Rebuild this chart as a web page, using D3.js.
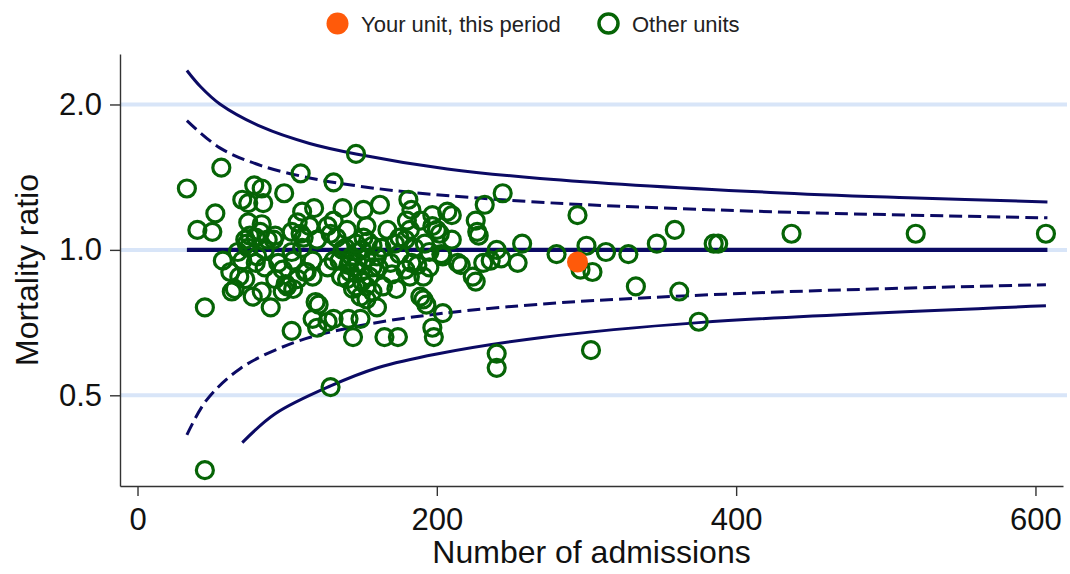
<!DOCTYPE html>
<html>
<head>
<meta charset="utf-8">
<script src="https://cdn.jsdelivr.net/npm/d3@7"></script>
<style>
  html, body { margin: 0; padding: 0; background: #fff; }
  svg { display: block; font-family: "Liberation Sans", Arial, sans-serif; }
</style>
</head>
<body>
<svg id="chart" width="1070" height="574"></svg>
<script>
// Funnel plot: standardised mortality ratio against number of admissions

// Other units: admissions and mortality ratio
const otherAdmissions = [
  33, 56, 146, 109, 131, 162, 181, 183, 244, 232,
  52, 40, 50, 78, 83, 98, 70, 74, 84, 74,
  83, 92, 110, 107, 118, 103, 72, 79, 87, 111,
  137, 151, 131, 197, 207, 180, 189, 197, 202, 115,
  127, 153, 167, 182, 109, 133, 151, 175, 210, 226,
  227, 228, 200, 257, 254, 240, 243, 236, 216, 203,
  214, 231, 224, 226, 294, 300, 280, 313, 328, 296,
  304, 347, 359, 385, 388, 437, 520, 607, 333, 362,
  375, 303, 240, 240, 197, 198, 191, 193, 204, 45,
  45, 129, 103, 89, 121, 120, 127, 131, 141, 149,
  144, 165, 174, 182, 191, 173, 189, 204, 195, 113,
  117, 127, 131, 140, 144, 153, 160, 164, 169, 157,
  149, 142, 77, 63, 57, 62, 68, 65, 83, 72,
  79, 85, 94, 92, 99, 97, 104, 107, 112, 117,
  103, 67, 74, 85, 110, 119, 117, 70, 73, 80,
  75, 82, 91, 100, 97, 104, 120, 129, 140, 137,
  147, 139, 143, 147, 150, 153, 145, 150, 155, 157,
  141, 146, 154, 160, 161, 136, 153, 146, 142, 135,
  149, 157, 163, 172, 179, 185, 192, 175, 183, 179,
  187, 170, 195, 210
];
const otherRatio = [
  1.34, 1.48, 1.58, 1.44, 1.38, 1.24, 1.27, 1.21, 1.31, 1.24,
  1.19, 1.10, 1.09, 1.36, 1.34, 1.31, 1.27, 1.25, 1.25, 1.14,
  1.13, 1.07, 1.20, 1.14, 1.22, 1.09, 1.05, 1.06, 1.05, 1.06,
  1.22, 1.21, 1.15, 1.18, 1.20, 1.15, 1.15, 1.12, 1.08, 1.12,
  1.12, 1.12, 1.10, 1.10, 1.08, 1.06, 1.06, 1.06, 1.18, 1.15,
  1.09, 1.07, 1.10, 1.03, 0.94, 1.00, 0.96, 0.95, 0.93, 0.98,
  0.94, 0.94, 0.88, 0.86, 1.18, 1.02, 0.98, 0.99, 0.98, 0.91,
  0.90, 1.03, 1.10, 1.03, 1.03, 1.08, 1.08, 1.08, 0.84, 0.82,
  0.71, 0.62, 0.61, 0.57, 0.69, 0.66, 0.79, 0.77, 0.74, 0.76,
  0.35, 0.52, 0.68, 0.76, 0.77, 0.69, 0.71, 0.72, 0.72, 0.72,
  0.66, 0.66, 0.66, 0.88, 0.88, 0.83, 0.80, 0.97, 0.99, 0.90,
  0.88, 0.92, 0.95, 0.87, 0.83, 0.79, 0.76, 0.84, 0.94, 0.92,
  0.90, 0.95, 0.80, 0.82, 0.95, 0.90, 0.88, 0.83, 0.82, 0.87,
  0.94, 0.92, 0.94, 0.87, 0.85, 0.82, 0.83, 0.87, 0.90, 0.95,
  0.99, 0.99, 1.01, 1.00, 1.01, 0.78, 0.72, 0.95, 1.03, 0.97,
  1.07, 1.09, 1.05, 0.84, 0.91, 0.95, 1.05, 1.08, 1.10, 1.00,
  0.99, 1.01, 0.97, 0.94, 1.00, 0.96, 0.92, 0.86, 0.88, 1.02,
  0.93, 1.03, 1.04, 0.97, 0.92, 0.88, 0.84, 0.84, 0.90, 0.95,
  0.80, 0.82, 1.01, 1.03, 1.05, 1.01, 1.03, 0.98, 0.94, 0.91,
  0.93, 0.89, 0.92, 1.05
];

// Highlighted unit
const unitAdmissions = [294];
const unitRatio = [0.944];

// Control limits (admissions, ratio)
const upper998N = [33, 42, 55, 83, 115, 146, 207, 269, 423, 515, 608];
const upper998R = [2.352, 2.179, 2.005, 1.797, 1.661, 1.580, 1.471, 1.406, 1.315, 1.282, 1.257];
const upper95N = [33, 55, 83, 115, 138, 184, 269, 331, 446, 608];
const upper95R = [1.852, 1.626, 1.493, 1.409, 1.369, 1.314, 1.255, 1.228, 1.194, 1.165];
const lower95N = [33, 46, 69, 104, 138, 184, 269, 423, 607];
const lower95R = [0.414, 0.488, 0.569, 0.642, 0.686, 0.726, 0.772, 0.817, 0.847];
const lower998N = [70, 92, 129, 161, 200, 269, 375, 607];
const lower998R = [0.399, 0.458, 0.523, 0.571, 0.609, 0.658, 0.707, 0.766];
const targetN = [33, 608];
const targetR = [1, 1];

const xTicks = [0, 200, 400, 600];
const yTicks = [0.5, 1, 2];

const legendLabels = ["Your unit, this period", "Other units"];
const xTitle = "Number of admissions";
const yTitle = "Mortality ratio";

const navy = "#0b0a64";
const green = "#066406";
const orange = "#ff5a0a";
const gridBlue = "#d8e5f8";

const svg = d3.select("#chart");
const plotLeft = 120, plotRight = 1063, plotTop = 54, plotBottom = 486;

const x = d3.scaleLinear().domain([-11.7, 618.4]).range([plotLeft, plotRight]);
const y = d3.scaleLog().base(2).domain([0.3245, 2.544]).range([plotBottom, plotTop]);

// Grid lines
svg.append("g").selectAll("line").data(yTicks).join("line")
  .attr("x1", plotLeft).attr("x2", 1067)
  .attr("y1", d => y(d)).attr("y2", d => y(d))
  .attr("stroke", gridBlue).attr("stroke-width", 4);

// Control limit curves
const line = d3.line().x(d => x(d[0])).y(d => y(d[1])).curve(d3.curveCatmullRom.alpha(0.5));
const limits = [
  { n: targetN, r: targetR, w: 4.2, dash: null },
  { n: upper998N, r: upper998R, w: 3, dash: null },
  { n: lower998N, r: lower998R, w: 3, dash: null },
  { n: upper95N, r: upper95R, w: 3, dash: "13,6" },
  { n: lower95N, r: lower95R, w: 3, dash: "13,6" }
];
svg.append("g").selectAll("path").data(limits).join("path")
  .attr("d", d => line(d.n.map((v, i) => [v, d.r[i]])))
  .attr("fill", "none")
  .attr("stroke", navy)
  .attr("stroke-width", d => d.w)
  .attr("stroke-dasharray", d => d.dash);

// Other units
const others = otherAdmissions.map((v, i) => [v, otherRatio[i]]);
svg.append("g").selectAll("circle").data(others).join("circle")
  .attr("cx", d => x(d[0])).attr("cy", d => y(d[1]))
  .attr("r", 8.5)
  .attr("fill", "none")
  .attr("stroke", green)
  .attr("stroke-width", 3.2);

// This unit
const unit = unitAdmissions.map((v, i) => [v, unitRatio[i]]);
svg.append("g").selectAll("circle").data(unit).join("circle")
  .attr("cx", d => x(d[0])).attr("cy", d => y(d[1]))
  .attr("r", 10.5)
  .attr("fill", orange);

// Axes
const xAxis = d3.axisBottom(x).tickValues(xTicks).tickSize(10).tickSizeOuter(0).tickPadding(12)
  .tickFormat(d3.format("d"));
const yAxis = d3.axisLeft(y).tickValues(yTicks).tickSize(10).tickSizeOuter(0).tickPadding(8)
  .tickFormat(d3.format(".1f"));

const gx = svg.append("g").attr("transform", `translate(0,${plotBottom})`).call(xAxis);
const gy = svg.append("g").attr("transform", `translate(${plotLeft},0)`).call(yAxis);
[gx, gy].forEach(g => {
  g.select(".domain").attr("stroke", "#333").attr("stroke-width", 1.4);
  g.selectAll(".tick line").attr("stroke", "#333").attr("stroke-width", 1.4);
  g.selectAll(".tick text").attr("fill", "#111").attr("font-size", 31)
    .attr("font-family", '"Liberation Sans", Arial, sans-serif');
});

// Axis titles
svg.append("text")
  .attr("x", (plotLeft + plotRight) / 2).attr("y", 563)
  .attr("text-anchor", "middle")
  .attr("font-size", 32).attr("fill", "#111")
  .text(xTitle);
svg.append("text")
  .attr("transform", `translate(37.5,${(plotTop + plotBottom) / 2}) rotate(-90)`)
  .attr("text-anchor", "middle")
  .attr("font-size", 32).attr("fill", "#111")
  .text(yTitle);

// Legend
const legend = svg.append("g");
legend.append("circle").attr("cx", 337.5).attr("cy", 23.5).attr("r", 11).attr("fill", orange);
legend.append("text").attr("x", 361).attr("y", 32).attr("font-size", 22).attr("fill", "#222")
  .text(legendLabels[0]);
legend.append("circle").attr("cx", 608.5).attr("cy", 23.5).attr("r", 9.5)
  .attr("fill", "none").attr("stroke", green).attr("stroke-width", 3.5);
legend.append("text").attr("x", 632).attr("y", 32).attr("font-size", 22).attr("fill", "#222")
  .text(legendLabels[1]);
</script>
</body>
</html>
